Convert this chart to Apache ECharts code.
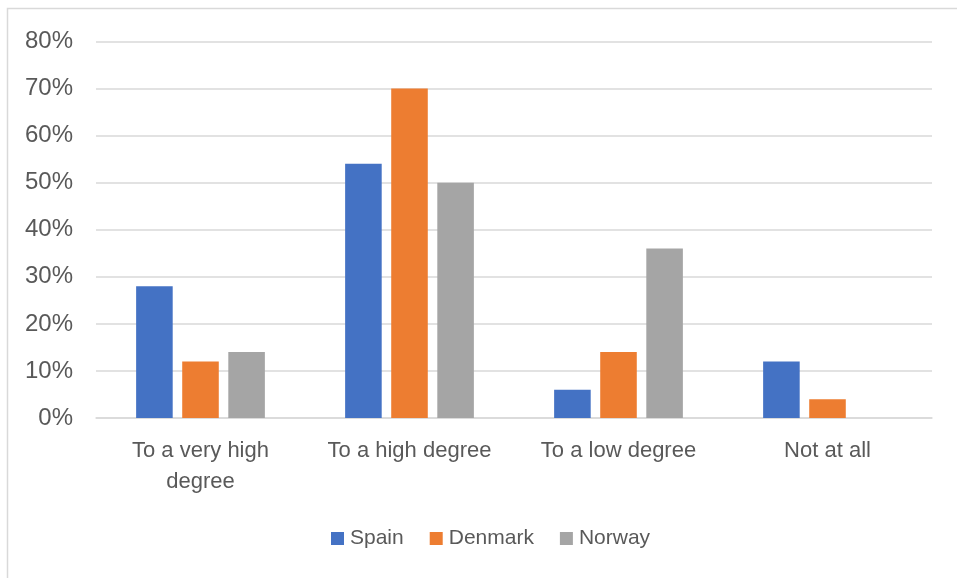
<!DOCTYPE html>
<html>
<head>
<meta charset="utf-8">
<script src="https://cdn.jsdelivr.net/npm/echarts@6/dist/echarts.min.js"></script>
<style>
  html, body { margin: 0; padding: 0; background: #fff; }
  #chart { width: 957px; height: 578px; }
</style>
</head>
<body>
<div id="chart"></div>
<script>
// Survey responses by country (share of respondents)
const categories = ['To a very high\ndegree', 'To a high degree', 'To a low degree', 'Not at all'];
const spain = [28, 54, 6, 12];
const denmark = [12, 70, 14, 4];
const norway = [14, 50, 36, 0];
const yTicks = [0, 10, 20, 30, 40, 50, 60, 70, 80];

const font = 'Liberation Sans, Arial, sans-serif';
const textColor = '#595959';

const chart = echarts.init(document.getElementById('chart'));

function barSeries(name, data, color) {
  return {
    name: name,
    type: 'bar',
    data: data,
    barWidth: '17.5%',
    barGap: '26%',
    itemStyle: { color: color },
    emphasis: { disabled: true }
  };
}

chart.setOption({
  animation: false,
  backgroundColor: '#fff',
  graphic: [{
    type: 'rect',
    left: 5,
    top: 6,
    shape: { width: 1000, height: 1000 },
    style: { fill: 'none', stroke: '#d9d9d9', lineWidth: 1.5 },
    silent: true
  }],
  grid: { left: 96, right: 25, top: 41.5, bottom: 160, containLabel: false },
  legend: {
    bottom: 24,
    left: 326,
    itemWidth: 13,
    itemHeight: 13,
    itemGap: 26,
    itemStyle: { borderWidth: 0 },
    icon: 'rect',
    textStyle: { fontFamily: font, fontSize: 21, color: textColor, padding: [0, 0, 0, 1] },
    data: ['Spain', 'Denmark', 'Norway']
  },
  xAxis: {
    type: 'category',
    data: categories,
    axisLine: { lineStyle: { color: '#d9d9d9', width: 1.5 } },
    axisTick: { show: false },
    axisLabel: {
      fontFamily: font, fontSize: 22, color: textColor,
      margin: 17, lineHeight: 31, interval: 0
    }
  },
  yAxis: {
    type: 'value',
    min: yTicks[0],
    max: yTicks[yTicks.length - 1],
    interval: 10,
    axisLine: { show: false },
    axisTick: { show: false },
    splitLine: { lineStyle: { color: '#d9d9d9', width: 1.5 } },
    axisLabel: {
      fontFamily: font, fontSize: 24, color: textColor, margin: 23,
      formatter: v => v + '%'
    }
  },
  series: [
    barSeries('Spain', spain, '#4472c4'),
    barSeries('Denmark', denmark, '#ed7d31'),
    barSeries('Norway', norway, '#a5a5a5')
  ]
});
</script>
</body>
</html>
